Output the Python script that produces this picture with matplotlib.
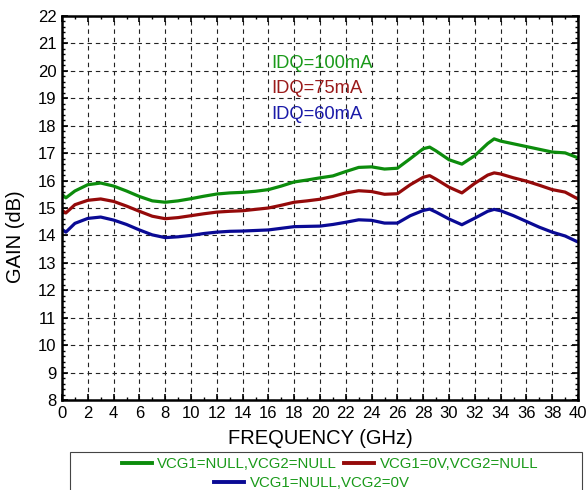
import matplotlib
matplotlib.use("Agg")
import matplotlib.pyplot as plt
from matplotlib.lines import Line2D
from matplotlib.patches import Rectangle
from matplotlib.ticker import MultipleLocator

plt.rcParams["font.family"] = ["Liberation Sans", "DejaVu Sans"]

# values
freq_ghz = [0, 0.3, 1, 2, 3, 4, 5, 6, 7, 8, 9, 10, 11, 12, 13, 14, 15, 16, 17, 18, 19, 20,
            21, 22, 23, 24, 25, 26, 27, 28, 28.5, 29, 30, 31, 32, 33, 33.5, 34, 35, 36, 37,
            38, 39, 40]
gain_null_null = [15.49, 15.37, 15.62, 15.85, 15.91, 15.8, 15.62, 15.42, 15.26, 15.21, 15.26,
                  15.34, 15.43, 15.51, 15.55, 15.57, 15.61, 15.67, 15.8, 15.95, 16.02, 16.1,
                  16.17, 16.33, 16.48, 16.5, 16.42, 16.45, 16.8, 17.16, 17.22, 17.08, 16.76,
                  16.6, 16.91, 17.35, 17.52, 17.44, 17.34, 17.24, 17.14, 17.04, 17.01, 16.83]
gain_0v_null = [14.91, 14.82, 15.12, 15.28, 15.33, 15.24, 15.07, 14.88, 14.7, 14.61, 14.65,
                14.72, 14.79, 14.85, 14.88, 14.9, 14.95, 15.0, 15.1, 15.21, 15.26, 15.32,
                15.42, 15.55, 15.63, 15.6, 15.5, 15.52, 15.85, 16.12, 16.18, 16.05, 15.76,
                15.55, 15.9, 16.2, 16.28, 16.24, 16.1, 15.98, 15.83, 15.67, 15.58, 15.33]
gain_null_0v = [14.22, 14.12, 14.44, 14.62, 14.67, 14.56, 14.4, 14.2, 14.02, 13.92, 13.95,
                14.0, 14.07, 14.12, 14.15, 14.16, 14.18, 14.2, 14.26, 14.32, 14.33, 14.34,
                14.4, 14.48, 14.57, 14.55, 14.45, 14.45, 14.72, 14.91, 14.96, 14.85, 14.6,
                14.39, 14.63, 14.88, 14.95, 14.9, 14.72, 14.51, 14.3, 14.12, 13.98, 13.76]

series_labels = ["VCG1=NULL,VCG2=NULL", "VCG1=0V,VCG2=NULL", "VCG1=NULL,VCG2=0V"]
idq_labels = ["IDQ=100mA", "IDQ=75mA", "IDQ=60mA"]

line_colors = ["#0c8c0c", "#950a0a", "#0a0a95"]
text_colors = ["#1a9a1a", "#9a1a1a", "#1a1aa8"]

fig = plt.figure(figsize=(5.87, 4.90), dpi=100)
ax = fig.add_axes([62 / 587, 90 / 490, 516 / 587, 384 / 490])

for gain, col in zip([gain_null_null, gain_0v_null, gain_null_0v], line_colors):
    ax.plot(freq_ghz, gain, color=col, linewidth=2.3, solid_capstyle="round")

ax.set_xlim(0, 40)
ax.set_ylim(8, 22)
ax.xaxis.set_major_locator(MultipleLocator(2))
ax.xaxis.set_minor_locator(MultipleLocator(1))
ax.yaxis.set_major_locator(MultipleLocator(1))
ax.yaxis.set_minor_locator(MultipleLocator(0.2))
ax.tick_params(which="both", direction="in", top=True, right=True, labelsize=12, pad=4)
ax.tick_params(which="major", length=4, width=1.2)
ax.tick_params(which="minor", length=2, width=1.0)
ax.grid(True, which="major", color="#222222", linestyle=(0, (4, 3.5)), linewidth=0.8)
for sp in ax.spines.values():
    sp.set_linewidth(1.8)

ax.set_xlabel("FREQUENCY (GHz)", fontsize=14.5, labelpad=6)
ax.set_ylabel("GAIN (dB)", fontsize=14.5)
ax.yaxis.set_label_coords(-0.072, 0.424)

for i, (lab, col) in enumerate(zip(idq_labels, text_colors)):
    ax.text(16.2, 20.27 - i * 0.93, lab, color=col, fontsize=13.2, ha="left", va="center")

# legend box, cut off at the bottom like the original
fig.patches.append(Rectangle((70 / 587, -0.05), 512 / 587, 0.05 + 38 / 490,
                             transform=fig.transFigure, fill=False,
                             edgecolor="#444444", linewidth=0.8))
handles = [Line2D([], [], color=c, linewidth=2.8) for c in line_colors]
leg1 = fig.legend(handles[:2], series_labels[:2], ncol=2, loc="center",
                  bbox_to_anchor=(330 / 587, 1 - 464 / 490), frameon=False,
                  fontsize=10.8, handlelength=2.0, handletextpad=0.35, columnspacing=0.5,
                  borderpad=0, labelcolor=text_colors[0])
leg2 = fig.legend(handles[2:], series_labels[2:], loc="center",
                  bbox_to_anchor=(312 / 587, 1 - 483 / 490), frameon=False,
                  fontsize=10.8, handlelength=2.0, handletextpad=0.35,
                  borderpad=0, labelcolor=text_colors[0])

fig.savefig("out.png", dpi=100)
